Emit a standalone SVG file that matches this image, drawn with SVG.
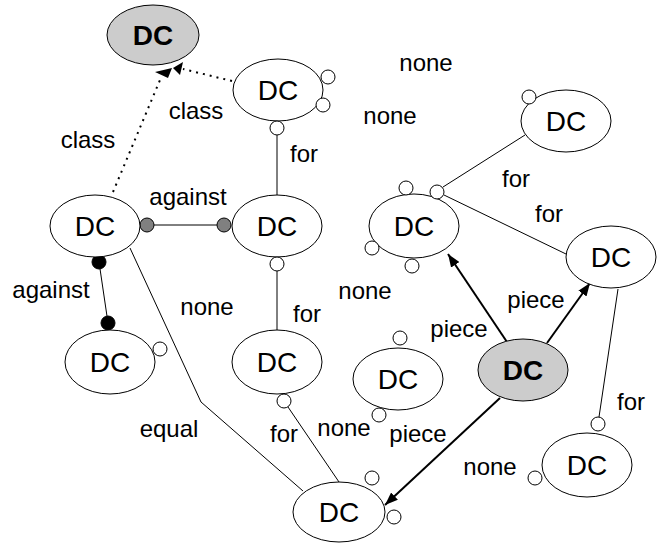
<svg xmlns="http://www.w3.org/2000/svg" width="662" height="546" viewBox="0 0 662 546">
  <defs>
    <style>
      .node { fill: #ffffff; stroke: #000000; stroke-width: 1; }
      .key { fill: #cccccc; stroke: #000000; stroke-width: 1; }
      .port { fill: #ffffff; stroke: #000000; stroke-width: 1; }
      .nt { font-family: "Liberation Sans", Arial, sans-serif; font-size: 28px; text-anchor: middle; fill: #000000; }
      .bold { font-weight: bold; }
      .lbl { font-family: "Liberation Sans", Arial, sans-serif; font-size: 24px; text-anchor: middle; fill: #000000; }
      .link { fill: none; stroke: #000000; stroke-width: 1; }
      .dot { fill: none; stroke: #000000; stroke-width: 2; stroke-dasharray: 2 5; }
      .arrow { fill: none; stroke: #000000; stroke-width: 2; marker-end: url(#head); }
      .grey { fill: #808080; stroke: #000000; stroke-width: 1; }
      .black { fill: #000000; stroke: #000000; stroke-width: 1; }
    </style>
    <marker id="head" viewBox="0 0 13 10" refX="13" refY="5" markerWidth="13" markerHeight="10" orient="auto" markerUnits="userSpaceOnUse">
      <path d="M0,0 L13,5 L0,10 z" fill="#000000"/>
    </marker>
  </defs>

  <!-- connectors -->
  <g id="connectors">
    <!-- class links (dotted, into the top node) -->
    <path class="dot" d="M113,192 L160,80"/>
    <polygon points="155,72 172,68 168,78" fill="#000000"/>
    <path class="dot" d="M232,81 L183,69"/>
    <polygon points="173,68 183,62 180,75" fill="#000000"/>
    <!-- against -->
    <line class="link" x1="154" y1="225" x2="217" y2="225"/>
    <circle class="grey" cx="147" cy="225" r="7"/>
    <circle class="grey" cx="224" cy="225" r="7"/>
    <line class="link" x1="99" y1="262" x2="108" y2="323"/>
    <circle class="black" cx="99" cy="262" r="7"/>
    <circle class="black" cx="108" cy="323" r="7"/>
    <!-- for -->
    <line class="link" x1="277" y1="135" x2="277" y2="195"/>
    <line class="link" x1="277" y1="271" x2="277" y2="331"/>
    <line class="link" x1="288" y1="407" x2="339" y2="482"/>
    <line class="link" x1="443" y1="187" x2="525" y2="135"/>
    <line class="link" x1="444" y1="195" x2="566" y2="254"/>
    <line class="link" x1="618" y1="289" x2="599" y2="417"/>
    <!-- equal -->
    <polyline class="link" points="130,248 201,402 303,491"/>
    <!-- piece -->
    <line class="arrow" x1="507" y1="342" x2="448" y2="254"/>
    <line class="arrow" x1="547" y1="343" x2="590" y2="283"/>
    <line class="arrow" x1="500" y1="398" x2="385" y2="505"/>
  </g>

  <!-- nodes -->
  <g id="nA">
    <ellipse class="key" cx="153" cy="35" rx="46" ry="30"/>
    <text class="nt bold" x="153" y="45">DC</text>
  </g>
  <g id="nB">
    <ellipse class="node" cx="278" cy="90" rx="45" ry="31"/>
    <text class="nt" x="278" y="100">DC</text>
    <circle class="port" cx="328" cy="77" r="7"/>
    <circle class="port" cx="323" cy="105" r="7"/>
    <circle class="port" cx="277" cy="128" r="7"/>
  </g>
  <g id="nC">
    <ellipse class="node" cx="95" cy="226" rx="45" ry="31"/>
    <text class="nt" x="95" y="236">DC</text>
  </g>
  <g id="nD">
    <ellipse class="node" cx="277" cy="226" rx="45" ry="31"/>
    <text class="nt" x="277" y="236">DC</text>
    <circle class="port" cx="277" cy="264" r="7"/>
  </g>
  <g id="nE">
    <ellipse class="node" cx="110" cy="362" rx="45" ry="32"/>
    <text class="nt" x="110" y="372">DC</text>
    <circle class="port" cx="160" cy="349" r="7"/>
  </g>
  <g id="nF">
    <ellipse class="node" cx="277" cy="362" rx="45" ry="32"/>
    <text class="nt" x="277" y="372">DC</text>
    <circle class="port" cx="284" cy="401" r="7"/>
  </g>
  <g id="nG">
    <ellipse class="node" cx="398" cy="379" rx="45" ry="31"/>
    <text class="nt" x="398" y="389">DC</text>
    <circle class="port" cx="400" cy="338" r="7"/>
    <circle class="port" cx="379" cy="415" r="7"/>
  </g>
  <g id="nH">
    <ellipse class="node" cx="339" cy="512" rx="46" ry="30"/>
    <text class="nt" x="339" y="522">DC</text>
    <circle class="port" cx="372" cy="478" r="7"/>
    <circle class="port" cx="394" cy="517" r="7"/>
  </g>
  <g id="nI">
    <ellipse class="key" cx="523" cy="370" rx="45" ry="31"/>
    <text class="nt bold" x="523" y="380">DC</text>
  </g>
  <g id="nJ">
    <ellipse class="node" cx="414" cy="226" rx="45" ry="32"/>
    <text class="nt" x="414" y="236">DC</text>
    <circle class="port" cx="406" cy="188" r="7"/>
    <circle class="port" cx="437" cy="192" r="7"/>
    <circle class="port" cx="372" cy="248" r="7"/>
    <circle class="port" cx="412" cy="266" r="7"/>
  </g>
  <g id="nK">
    <ellipse class="node" cx="566" cy="121" rx="45" ry="31"/>
    <text class="nt" x="566" y="131">DC</text>
    <circle class="port" cx="529" cy="97" r="7"/>
  </g>
  <g id="nL">
    <ellipse class="node" cx="611" cy="257" rx="45" ry="31"/>
    <text class="nt" x="611" y="267">DC</text>
  </g>
  <g id="nM">
    <ellipse class="node" cx="587" cy="465" rx="45" ry="32"/>
    <text class="nt" x="587" y="475">DC</text>
    <circle class="port" cx="598" cy="424" r="7"/>
    <circle class="port" cx="535" cy="478" r="7"/>
  </g>

  <!-- labels -->
  <g id="labels">
    <text class="lbl" x="196" y="119">class</text>
    <text class="lbl" x="88" y="148">class</text>
    <text class="lbl" x="304" y="162">for</text>
    <text class="lbl" x="426" y="71">none</text>
    <text class="lbl" x="390" y="124">none</text>
    <text class="lbl" x="516" y="187">for</text>
    <text class="lbl" x="188" y="205">against</text>
    <text class="lbl" x="51" y="298">against</text>
    <text class="lbl" x="207" y="315">none</text>
    <text class="lbl" x="307" y="322">for</text>
    <text class="lbl" x="549" y="222">for</text>
    <text class="lbl" x="365" y="299">none</text>
    <text class="lbl" x="536" y="308">piece</text>
    <text class="lbl" x="459" y="337">piece</text>
    <text class="lbl" x="169" y="437">equal</text>
    <text class="lbl" x="284" y="442">for</text>
    <text class="lbl" x="344" y="436">none</text>
    <text class="lbl" x="418" y="442">piece</text>
    <text class="lbl" x="490" y="475">none</text>
    <text class="lbl" x="631" y="410">for</text>
  </g>
</svg>
